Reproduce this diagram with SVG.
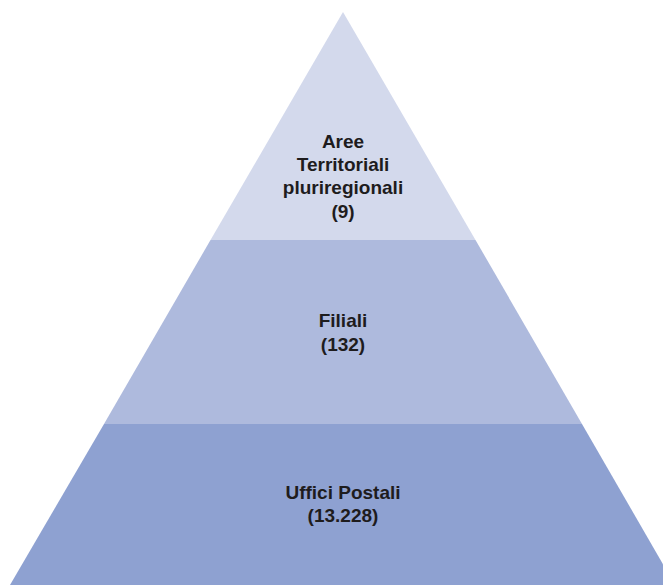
<svg xmlns="http://www.w3.org/2000/svg" width="663" height="585" viewBox="0 0 663 585">
<style>
.lbl{font-family:"Liberation Sans",Arial,Helvetica,sans-serif;font-weight:bold;font-size:19px;fill:#1e1c1d;text-anchor:middle}
</style>
<rect width="663" height="585" fill="#ffffff"/>
<g id="tier-top">
<polygon points="343,12 210.5,240 475.5,240" fill="#d3d9ec"/>
<text class="lbl" x="343" y="147.5">Aree</text>
<text class="lbl" x="343" y="170.5">Territoriali</text>
<text class="lbl" x="343" y="194">pluriregionali</text>
<text class="lbl" x="343" y="218">(9)</text>
</g>
<g id="tier-middle">
<polygon points="210.5,240 475.5,240 582,424 104,424" fill="#aebadd"/>
<text class="lbl" x="343" y="327">Filiali</text>
<text class="lbl" x="343" y="350.5">(132)</text>
</g>
<g id="tier-bottom">
<polygon points="104,424 582,424 675,585 10,585" fill="#8ea1d1"/>
<text class="lbl" x="343" y="498.5">Uffici Postali</text>
<text class="lbl" x="343" y="522">(13.228)</text>
</g>
<g id="connectors"></g>
</svg>
